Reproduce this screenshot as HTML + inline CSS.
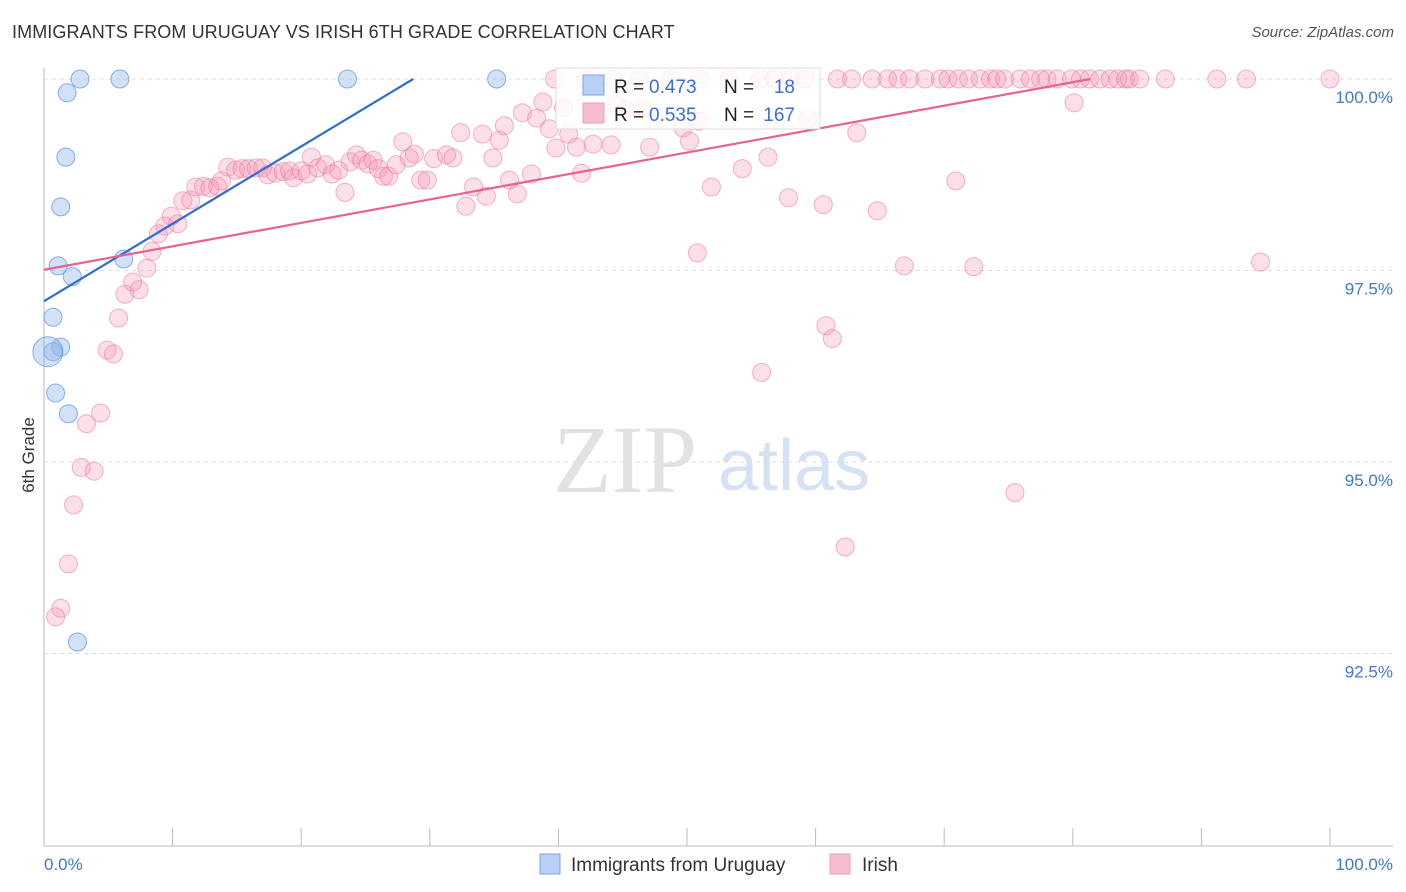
<!DOCTYPE html>
<html><head><meta charset="utf-8"><style>
body{margin:0;background:#fff;font-family:"Liberation Sans",sans-serif;}
#wrap{position:relative;width:1406px;height:892px;overflow:hidden;}
.t{position:absolute;white-space:nowrap;}
</style></head><body>
<div id="wrap">
<div class="t" style="left:12px;top:22px;font-size:18px;color:#333;letter-spacing:0.1px">IMMIGRANTS FROM URUGUAY VS IRISH 6TH GRADE CORRELATION CHART</div>
<div class="t" style="right:12px;top:24px;font-size:15px;color:#555;font-style:italic">Source: ZipAtlas.com</div>
<svg id="svg" width="1406" height="892" style="position:absolute;left:0;top:0"></svg>
</div>
<script>
const yTicks=[100,97.5,95,92.5];
const yTickLabels=["100.0%","97.5%","95.0%","92.5%"];
const xTickLabels=["0.0%","100.0%"];
const blueX=[2.8,5.9,23.6,35.2,1.8,1.7,1.3,1.1,2.2,6.2,0.7,1.3,0.7,0.3,0.9,1.9,2.6];
const blueY=[100,100,100,100,99.82,98.98,98.33,97.56,97.42,97.65,96.89,96.5,96.44,96.44,95.9,95.63,92.65];
const pinkX=[0.9,1.3,1.9,2.3,2.9,3.9,3.3,4.4,4.9,5.4,5.8,6.3,6.9,7.4,8.0,8.4,8.9,9.4,9.9,10.4,10.8,11.4,11.8,12.4,12.9,13.5,13.8,14.3,14.9,15.4,15.9,16.5,17.0,17.4,18.0,18.6,19.1,19.4,20.0,20.5,20.8,21.3,21.9,22.4,22.9,23.4,23.8,24.3,24.7,25.2,25.6,26.0,26.4,26.8,27.4,27.9,28.4,28.8,29.3,29.8,30.3,31.3,31.8,32.4,32.8,33.4,34.1,34.4,34.9,35.4,35.8,36.2,36.8,37.2,37.9,38.3,38.8,39.3,39.8,40.4,40.8,41.4,41.8,42.7,44.1,45.2,47.1,49.7,50.2,50.8,51.9,54.3,56.3,57.9,60.6,60.8,61.3,62.3,63.2,64.8,66.9,70.9,72.3,75.5,80.1,94.6,55.8,44.5,46.5,50.9,59.4,
39.7,42.1,44.2,46.3,48.7,51.0,53.3,55.7,56.8,58.0,59.2,61.7,62.8,64.4,65.6,66.4,67.3,68.5,69.7,70.3,71.1,71.9,72.8,73.6,74.1,74.7,75.9,76.7,77.5,78.0,78.8,79.9,80.6,81.3,82.1,82.9,83.5,84.1,84.4,85.2,87.2,91.2,93.5,100];
const pinkY=[92.98,93.09,93.67,94.44,94.93,94.88,95.5,95.64,96.46,96.41,96.88,97.19,97.35,97.25,97.53,97.75,97.98,98.08,98.21,98.11,98.41,98.42,98.59,98.6,98.58,98.6,98.67,98.85,98.81,98.83,98.83,98.84,98.84,98.75,98.77,98.79,98.8,98.71,98.8,98.76,98.98,98.84,98.88,98.76,98.81,98.52,98.92,99.01,98.94,98.89,98.94,98.83,98.73,98.73,98.88,99.18,98.97,99.02,98.68,98.68,98.96,99.01,98.97,99.3,98.34,98.59,99.28,98.47,98.97,99.2,99.39,98.68,98.5,99.56,98.76,99.49,99.7,99.35,99.1,99.63,99.28,99.11,98.77,99.15,99.14,99.6,99.11,99.36,99.19,97.73,98.59,98.83,98.98,98.45,98.36,96.78,96.61,93.89,99.3,98.28,97.56,98.67,97.55,94.6,99.69,97.61,96.17,99.66,99.61,99.45,99.48,
100,100,100,100,100,100,100,100,100,100,100,100,100,100,100,100,100,100,100,100,100,100,100,100,100,100,100,100,100,100,100,100,100,100,100,100,100,100,100,100,100,100,100,100];
const blueLine=[97.1,0.101];
const pinkLine=[97.51,0.0306];

const svg=document.getElementById('svg');
const NS='http://www.w3.org/2000/svg';
const X=v=>44+v*12.86;
const Y=v=>79+(100-v)*76.6;
function mk(tag,attrs,parent){const e=document.createElementNS(NS,tag);for(const k in attrs)e.setAttribute(k,attrs[k]);(parent||svg).appendChild(e);return e;}

// watermark
let wm=mk('text',{x:553,y:492,'font-size':96,'font-family':'Liberation Serif, serif',fill:'#e2e2e2'});
wm.textContent='ZIP';


let wm2=mk('text',{x:718,y:490,'font-size':72,'font-family':'Liberation Sans, sans-serif',fill:'#d4e2f4'});
wm2.textContent='atlas';



// grid
yTicks.forEach((t,i)=>{
 let g=mk('line',{x1:44,x2:1393,y1:Y(t),y2:Y(t),stroke:'#ddd','stroke-dasharray':'4,4'});
 
 
 let tx=mk('text',{x:1393,y:Y(t)+24,'text-anchor':'end','font-size':17,fill:'#4477cc','font-family':'Liberation Sans, sans-serif'});
 tx.textContent=yTickLabels[i];
 
 
});
// axes
let ax=mk('line',{x1:44,x2:44,y1:68,y2:846,stroke:'#bbb'});


let bx=mk('line',{x1:44,x2:1393,y1:846,y2:846,stroke:'#bbb'});


for(let i=0;i<=10;i++){
 let tk=mk('line',{x1:X(i*10),x2:X(i*10),y1:828,y2:846,stroke:'#bbb'});
 
 
}
let xl0=mk('text',{x:44,y:870,'font-size':17,fill:'#4477cc','font-family':'Liberation Sans, sans-serif'});
xl0.textContent=xTickLabels[0];


let xl1=mk('text',{x:1393,y:870,'text-anchor':'end','font-size':17,fill:'#4477cc','font-family':'Liberation Sans, sans-serif'});
xl1.textContent=xTickLabels[1];


let yt=mk('text',{x:0,y:0,transform:'translate(34,455) rotate(-90)','text-anchor':'middle','font-size':17,fill:'#333','font-family':'Liberation Sans, sans-serif'});
yt.textContent='6th Grade';



// points
pinkX.forEach((v,i)=>{
 let c=mk('circle',{cx:X(v),cy:Y(pinkY[i]),r:9,fill:'rgba(244,150,178,0.3)',stroke:'rgba(232,120,155,0.55)','stroke-width':1});
 
 
});
blueX.forEach((v,i)=>{
 let c=mk('circle',{cx:X(v),cy:Y(blueY[i]),r:(i==13?15:9),fill:'rgba(140,180,235,0.4)',stroke:'rgba(90,145,220,0.7)','stroke-width':1});
 
 
});
// trend lines
function trend(p,color,name){
 const xEnd=Math.min(100,(100-p[0])/p[1]);
 let l=mk('line',{x1:X(0),y1:Y(p[0]),x2:X(xEnd),y2:Y(p[0]+p[1]*xEnd),stroke:color,'stroke-width':2.2});
 
 
}
trend(blueLine,'#2f6fd0','uruguay-trend-line');
trend(pinkLine,'#e8628e','irish-trend-line');

// legend box
let lg=mk('g',{});


mk('rect',{x:556,y:68,width:264,height:61,fill:'rgba(255,255,255,0.8)',stroke:'#ddd'},lg);
mk('rect',{x:583,y:75,width:21,height:20,fill:'#b7d0f3',stroke:'#7aa5e0'},lg);
mk('rect',{x:583,y:103,width:21,height:20,fill:'#f7bccd',stroke:'#eea0b8'},lg);
function tt(x,y,s,c,anchor){let t=mk('text',{x:x,y:y,'font-size':19,fill:c,'font-family':'Liberation Sans, sans-serif','text-anchor':anchor||'start'},lg);t.textContent=s;return t;}
tt(614,93,'R = ','#222');tt(649,93,'0.473','#3b6fd4');tt(724,93,'N =','#222');tt(795,93,'18','#3b6fd4','end');
tt(614,121,'R = ','#222');tt(649,121,'0.535','#3b6fd4');tt(724,121,'N =','#222');tt(795,121,'167','#3b6fd4','end');

// bottom legend
let b1=mk('rect',{x:540,y:854,width:20,height:20,fill:'#b7d0f3',stroke:'#7aa5e0'});


let bt1=mk('text',{x:571,y:871,'font-size':19,fill:'#333','font-family':'Liberation Sans, sans-serif'});
bt1.textContent='Immigrants from Uruguay';


let b2=mk('rect',{x:830,y:854,width:20,height:20,fill:'#f7bccd',stroke:'#eea0b8'});


let bt2=mk('text',{x:862,y:871,'font-size':19,fill:'#333','font-family':'Liberation Sans, sans-serif'});
bt2.textContent='Irish';


</script>
</body></html>
